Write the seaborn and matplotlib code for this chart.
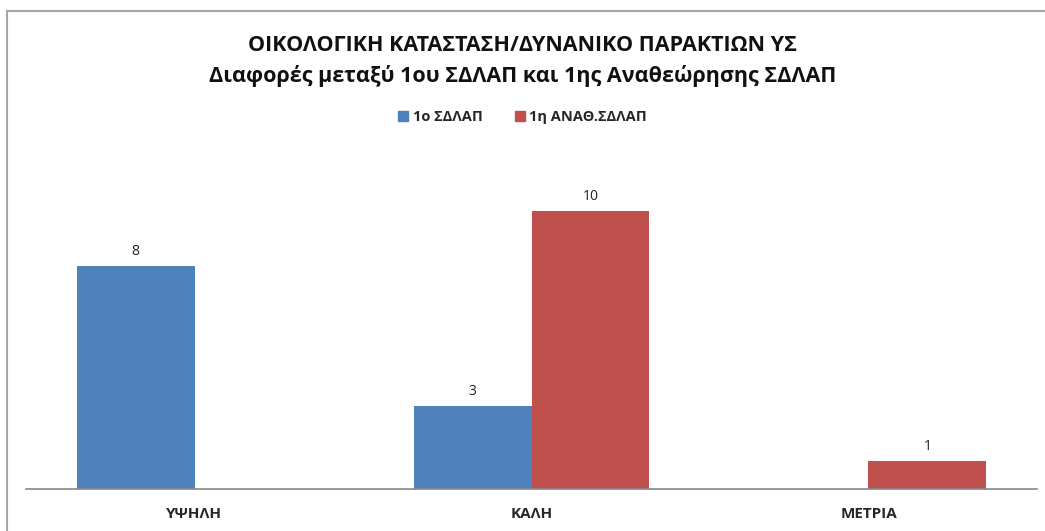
import numpy as np
import pandas as pd
import matplotlib
matplotlib.use("Agg")
import matplotlib.pyplot as plt
import seaborn as sns
from matplotlib.patches import Rectangle

# Datos del gráfico
categorias = ["ΥΨΗΛΗ", "ΚΑΛΗ", "ΜΕΤΡΙΑ"]
serie_1 = [8, 3, np.nan]        # 1ο ΣΔΛΑΠ
serie_2 = [np.nan, 10, 1]       # 1η ΑΝΑΘ.ΣΔΛΑΠ
series = ["1ο ΣΔΛΑΠ", "1η ΑΝΑΘ.ΣΔΛΑΠ"]
colores = ["#4F81BD", "#C0504D"]
titulo = "ΟΙΚΟΛΟΓΙΚΗ ΚΑΤΑΣΤΑΣΗ/ΔΥΝΑΝΙΚΟ ΠΑΡΑΚΤΙΩΝ ΥΣ\nΔιαφορές μεταξύ 1ου ΣΔΛΑΠ και 1ης Αναθεώρησης ΣΔΛΑΠ"

df = pd.DataFrame({
    "categoria": categorias * 2,
    "serie": [series[0]] * 3 + [series[1]] * 3,
    "valor": serie_1 + serie_2,
}).dropna()

sns.set_style("white")
plt.rcParams["font.family"] = ["Open Sans", "DejaVu Sans"]

fig = plt.figure(figsize=(10.45, 5.31), dpi=100)
ax = fig.add_axes([26 / 1045, 1 - 489 / 531, (1037 - 26) / 1045, (489 - 155) / 531])

sns.barplot(data=df, x="categoria", y="valor", hue="serie", order=categorias,
            hue_order=series, palette=colores, width=0.7, errorbar=None,
            saturation=1, linewidth=0, ax=ax, legend=False)

for cont in ax.containers:
    ax.bar_label(cont, fmt="%d", padding=5, fontsize=10, color="#222222")

ax.set_ylim(0, 12)
ax.set_xlim(-0.5, 2.5)
ax.set_xlabel("")
ax.set_ylabel("")
ax.set_yticks([])
ax.tick_params(axis="x", length=0, pad=13)
for lbl in ax.get_xticklabels():
    lbl.set_fontweight("bold")
    lbl.set_fontsize(11)
for s in ["top", "right", "left"]:
    ax.spines[s].set_visible(False)
ax.spines["bottom"].set_color("#888888")
ax.spines["bottom"].set_linewidth(1.2)

# título
fig.text(0.5, 1 - 61 / 531, titulo, ha="center", va="center", fontsize=15.5,
         fontweight="bold", linespacing=1.5, color="#111111")

# leyenda manual
handles = [Rectangle((0, 0), 1, 1, color=c) for c in colores]
fig.legend(handles, series, loc="center", bbox_to_anchor=(0.5, 1 - 117 / 531),
           ncol=2, frameon=False, prop={"size": 10.5, "weight": "bold"},
           handlelength=0.7, handleheight=0.7, handletextpad=0.3, columnspacing=2.2)

# marco exterior
fig.patches.append(Rectangle((7 / 1045, -0.1), 1.2, 1 - 11 / 531 + 0.1,
                             transform=fig.transFigure, fill=False,
                             edgecolor="#A6A6A6", linewidth=1.5))

fig.savefig("out.png", dpi=100)
plt.close(fig)
